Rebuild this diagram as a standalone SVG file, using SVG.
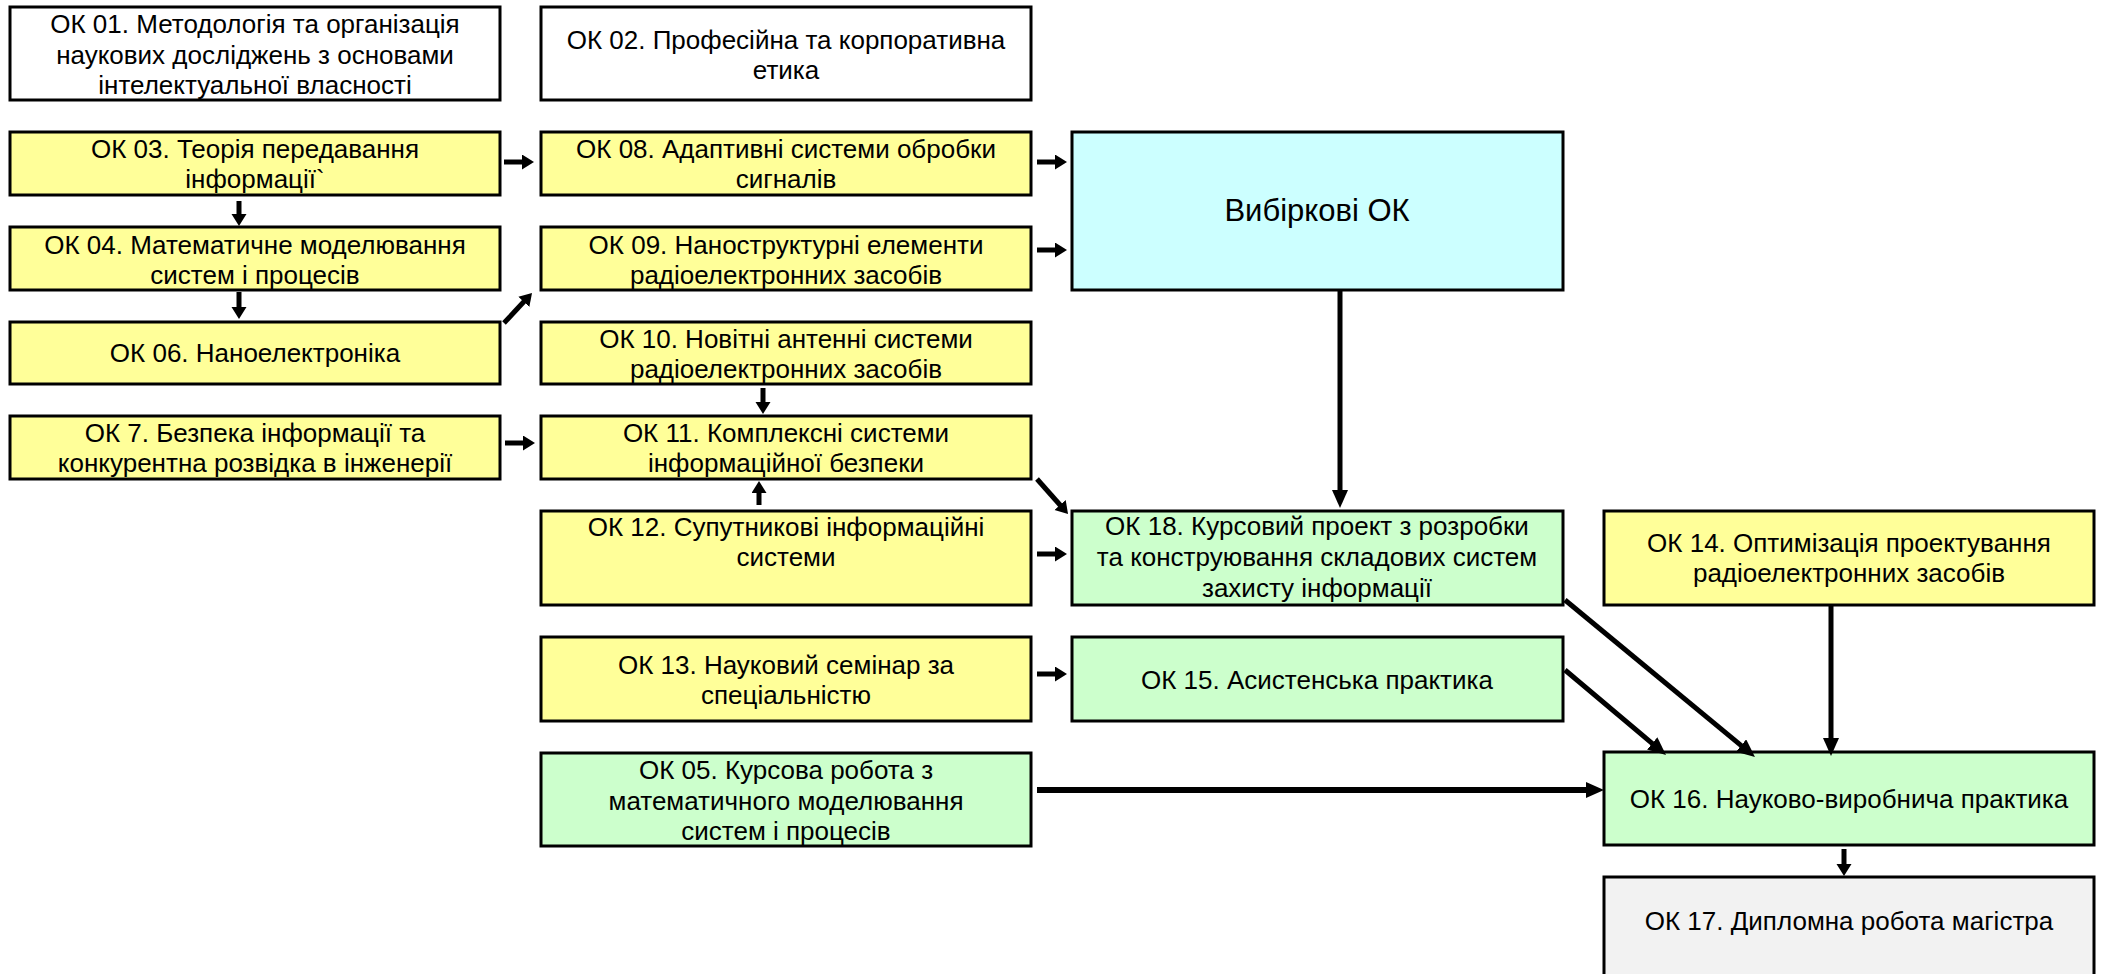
<svg xmlns="http://www.w3.org/2000/svg" width="2105" height="974" viewBox="0 0 2105 974">
<style>
.box{stroke:#000;stroke-width:3}
.w{fill:#fff}.y{fill:#ffff99}.c{fill:#ccffff}.g{fill:#ccffcc}.s{fill:#f2f2f2}
text{font-family:"Liberation Sans",Arial,sans-serif;font-size:26px;fill:#000;text-anchor:middle}
.big{font-size:31px}
.sc{stroke:#000;stroke-width:5;fill:none;marker-end:url(#sa)}
.lc{stroke:#000;stroke-width:5;fill:none;marker-end:url(#la)}
</style>
<defs>
<marker id="sa" markerUnits="userSpaceOnUse" markerWidth="14" markerHeight="16" refX="2" refY="7.5" orient="auto"><path d="M0,0 L12,7.5 L0,15 z" fill="#000"/></marker>
<marker id="la" markerUnits="userSpaceOnUse" markerWidth="20" markerHeight="18" refX="3" refY="8" orient="auto"><path d="M0,0 L18,8 L0,16 z" fill="#000"/></marker>
</defs>
<rect width="2105" height="974" fill="#fff"/>
<g id="ok01"><rect class="box w" x="10" y="7" width="490" height="93"/><text x="255" y="33">ОК 01. Методологія та організація</text><text x="255" y="64">наукових досліджень з основами</text><text x="255" y="94">інтелектуальної власності</text></g>
<g id="ok02"><rect class="box w" x="541" y="7" width="490" height="93"/><text x="786" y="49">ОК 02. Професійна та корпоративна</text><text x="786" y="79">етика</text></g>
<g id="ok03"><rect class="box y" x="10" y="132" width="490" height="63"/><text x="255" y="158">ОК 03. Теорія передавання</text><text x="255" y="188">інформації`</text></g>
<g id="ok08"><rect class="box y" x="541" y="132" width="490" height="63"/><text x="786" y="158">ОК 08. Адаптивні системи обробки</text><text x="786" y="188">сигналів</text></g>
<g id="vib"><rect class="box c" x="1072" y="132" width="491" height="158"/><text class="big" x="1317" y="221">Вибіркові ОК</text></g>
<g id="ok04"><rect class="box y" x="10" y="227" width="490" height="63"/><text x="255" y="254">ОК 04. Математичне моделювання</text><text x="255" y="284">систем і процесів</text></g>
<g id="ok09"><rect class="box y" x="541" y="227" width="490" height="63"/><text x="786" y="254">ОК 09. Наноструктурні елементи</text><text x="786" y="284">радіоелектронних засобів</text></g>
<g id="ok06"><rect class="box y" x="10" y="322" width="490" height="62"/><text x="255" y="362">ОК 06. Наноелектроніка</text></g>
<g id="ok10"><rect class="box y" x="541" y="322" width="490" height="62"/><text x="786" y="348">ОК 10. Новітні антенні системи</text><text x="786" y="378">радіоелектронних засобів</text></g>
<g id="ok07"><rect class="box y" x="10" y="416" width="490" height="63"/><text x="255" y="442">ОК 7. Безпека інформації та</text><text x="255" y="472">конкурентна розвідка в інженерії</text></g>
<g id="ok11"><rect class="box y" x="541" y="416" width="490" height="63"/><text x="786" y="442">ОК 11. Комплексні системи</text><text x="786" y="472">інформаційної безпеки</text></g>
<g id="ok12"><rect class="box y" x="541" y="511" width="490" height="94"/><text x="786" y="536">ОК 12. Супутникові інформаційні</text><text x="786" y="566">системи</text></g>
<g id="ok18"><rect class="box g" x="1072" y="511" width="491" height="94"/><text x="1317" y="535">ОК 18. Курсовий проект з розробки</text><text x="1317" y="566">та конструювання складових систем</text><text x="1317" y="597">захисту інформації</text></g>
<g id="ok14"><rect class="box y" x="1604" y="511" width="490" height="94"/><text x="1849" y="552">ОК 14. Оптимізація проектування</text><text x="1849" y="582">радіоелектронних засобів</text></g>
<g id="ok13"><rect class="box y" x="541" y="637" width="490" height="84"/><text x="786" y="674">ОК 13. Науковий семінар за</text><text x="786" y="704">спеціальністю</text></g>
<g id="ok15"><rect class="box g" x="1072" y="637" width="491" height="84"/><text x="1317" y="689">ОК 15. Асистенська практика</text></g>
<g id="ok05"><rect class="box g" x="541" y="753" width="490" height="93"/><text x="786" y="779">ОК 05. Курсова робота з</text><text x="786" y="810">математичного моделювання</text><text x="786" y="840">систем і процесів</text></g>
<g id="ok16"><rect class="box g" x="1604" y="752" width="490" height="93"/><text x="1849" y="808">ОК 16. Науково-виробнича практика</text></g>
<g id="ok17"><rect class="box s" x="1604" y="877" width="490" height="110"/><text x="1849" y="930">ОК 17. Дипломна робота магістра</text></g>
<g id="connectors">
<line class="sc" x1="504" y1="162" x2="524" y2="162"/>
<line class="sc" x1="1037" y1="162" x2="1057" y2="162"/>
<line class="sc" x1="1037" y1="250" x2="1057" y2="250"/>
<line class="sc" x1="239" y1="201" x2="239" y2="216"/>
<line class="sc" x1="239" y1="292" x2="239" y2="309"/>
<line class="sc" x1="504" y1="323" x2="525.2" y2="300.3"/>
<line class="sc" x1="763" y1="388" x2="763" y2="404"/>
<line class="sc" x1="505" y1="443" x2="525" y2="443"/>
<line class="sc" x1="759" y1="505" x2="759" y2="491"/>
<line class="sc" x1="1037" y1="479" x2="1061.4" y2="506.5"/>
<line class="sc" x1="1037" y1="554" x2="1057" y2="554"/>
<line class="sc" x1="1037" y1="674" x2="1057" y2="674"/>
<line class="sc" x1="1844" y1="849" x2="1844" y2="866"/>
<line class="lc" x1="1340" y1="290" x2="1340" y2="493"/>
<line class="lc" x1="1831" y1="605" x2="1831" y2="741"/>
<line class="lc" x1="1565" y1="600" x2="1743.4" y2="747.4"/>
<line class="lc" x1="1565" y1="670" x2="1654.5" y2="745.3"/>
<line class="lc" style="stroke-width:6" x1="1037" y1="790" x2="1589" y2="790"/>
</g>
</svg>
